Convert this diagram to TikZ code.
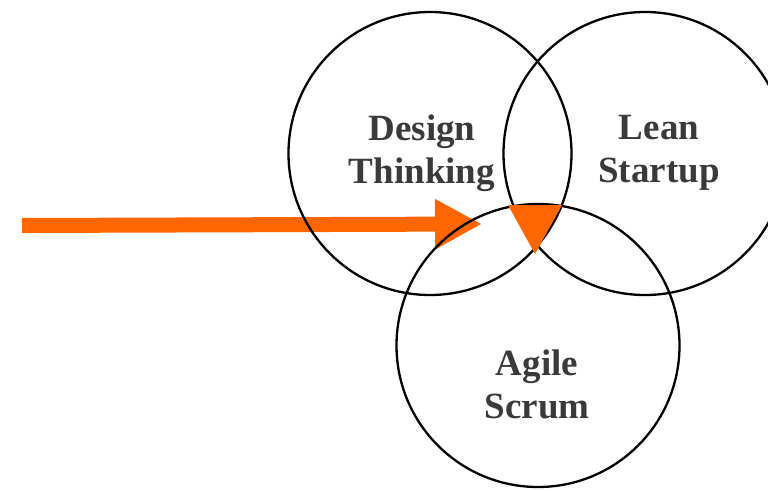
\documentclass[tikz,border=0pt]{standalone}
\usepackage{fontspec}
\setmainfont{Liberation Serif}
\usetikzlibrary{arrows.meta}
\definecolor{vorange}{HTML}{FF6600}
\definecolor{vtext}{HTML}{3A3A3A}
\begin{document}
\begin{tikzpicture}[x=1pt,y=-1pt,
  venn/.style={circle,draw=black,line width=2.3pt,minimum size=283pt,inner sep=0pt},
  lbl/.style={font=\fontsize{37}{43}\selectfont\bfseries,text=vtext,align=center},
  bigarrow/.style={draw=vorange,line width=15pt,-{Triangle[length=47pt,width=47pt]}}]
\useasboundingbox (0,0) rectangle (768,490);
\coordinate (a0) at (22,225.5);
\coordinate (a1) at (482,224);
\draw[bigarrow] (a0) -- (a1);
\node[venn] (dt) at (430,153.5) {};
\node[venn] (ls) at (645,153.5) {};
\node[venn] (as) at (538,345.5) {};
\fill[vorange] (508,205) -- (562,205) -- (535,254) -- cycle;
\node[lbl] (tdt) at (422,153) {Design\\Thinking};
\node[lbl] (tls) at (659,153) {Lean\\Startup};
\node[lbl] (tas) at (537,384) {Agile\\Scrum};
\end{tikzpicture}
\end{document}
